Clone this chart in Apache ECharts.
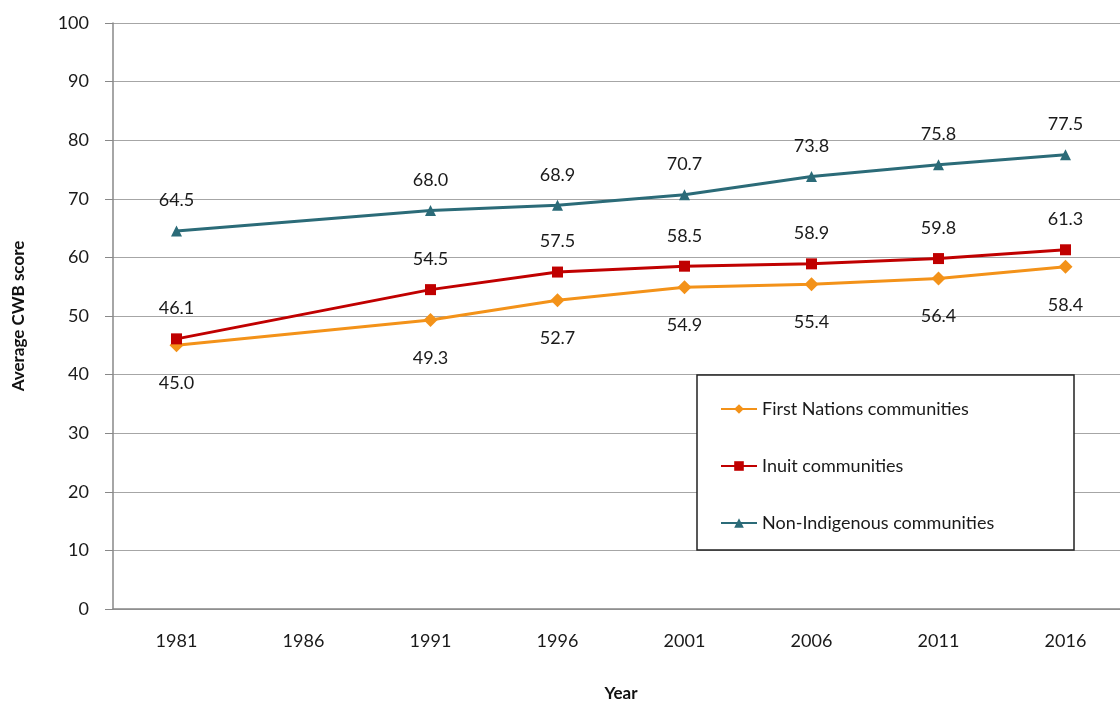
<!DOCTYPE html>
<html>
<head>
<meta charset="utf-8">
<script src="https://cdn.jsdelivr.net/npm/echarts@6/dist/echarts.min.js"></script>
<style>
  html, body { margin: 0; padding: 0; background: #fff; }
  #chart { width: 1120px; height: 702px; }
</style>
</head>
<body>
<div id="chart"></div>
<script>
var years = ["1981", "1986", "1991", "1996", "2001", "2006", "2011", "2016"];
var firstNations = [45.0, null, 49.3, 52.7, 54.9, 55.4, 56.4, 58.4];
var inuit = [46.1, null, 54.5, 57.5, 58.5, 58.9, 59.8, 61.3];
var nonIndigenous = [64.5, null, 68.0, 68.9, 70.7, 73.8, 75.8, 77.5];
var yTicks = [0, 10, 20, 30, 40, 50, 60, 70, 80, 90, 100];

var font = "Lato, 'Open Sans', sans-serif";

function lineSeries(name, data, color, symbol, size, pos, dist) {
    return {
        name: name,
        type: "line",
        data: data,
        connectNulls: true,
        symbol: symbol,
        symbolSize: size,
        lineStyle: { color: color, width: 3 },
        itemStyle: { color: color },
        label: {
            show: true,
            position: pos,
            distance: dist,
            fontFamily: font,
            fontSize: 18,
            color: "#1a1a1a",
            formatter: function (p) { return p.value.toFixed(1); }
        }
    };
}

var chart = echarts.init(document.getElementById("chart"));

chart.setOption({
    animation: false,
    textStyle: { fontFamily: font },
    grid: { left: 113, top: 23, width: 1016, bottom: 93, containLabel: false, outerBoundsMode: "none" },
    legend: {
        orient: "vertical",
        left: 715,
        top: 395,
        itemGap: 39,
        itemWidth: 36,
        itemHeight: 12,
        textStyle: { fontSize: 18, color: "#1a1a1a", fontFamily: font },
        data: ["First Nations communities", "Inuit communities", "Non-Indigenous communities"]
    },
    graphic: [{
        type: "rect",
        shape: { x: 697, y: 375, width: 377, height: 175 },
        style: { fill: "#fff", stroke: "#222", lineWidth: 1.5 },
        z: 2
    }],
    xAxis: {
        type: "category",
        data: years,
        boundaryGap: true,
        name: "Year",
        nameLocation: "middle",
        nameGap: 76,
        nameTextStyle: { fontSize: 17, fontWeight: "bold", color: "#111", fontFamily: font },
        axisLine: { lineStyle: { color: "#888", width: 1.5 } },
        axisTick: { alignWithLabel: true, length: 8, lineStyle: { color: "#888" } },
        axisLabel: { fontSize: 18, color: "#1a1a1a", margin: 23, fontFamily: font }
    },
    yAxis: {
        type: "value",
        min: 0,
        max: 100,
        interval: 10,
        name: "Average CWB score",
        nameLocation: "middle",
        nameGap: 86,
        nameTextStyle: { fontSize: 17, fontWeight: "bold", color: "#111", fontFamily: font },
        axisLine: { show: true, lineStyle: { color: "#888", width: 1.5 } },
        axisTick: { show: true, length: 8, lineStyle: { color: "#888" } },
        axisLabel: {
            fontSize: 18, color: "#1a1a1a", margin: 24, fontFamily: font,
            formatter: function (v) { return yTicks.indexOf(v) >= 0 ? String(v) : ""; }
        },
        splitLine: { lineStyle: { color: "#a6a6a6", width: 1.2 } }
    },
    series: [
        lineSeries("First Nations communities", firstNations, "#f39219", "diamond", 14, "bottom", 22),
        lineSeries("Inuit communities", inuit, "#c00000", "rect", 11, "top", 16),
        lineSeries("Non-Indigenous communities", nonIndigenous, "#2b6b78", "triangle", 11, "top", 16)
    ]
});
</script>
</body>
</html>
